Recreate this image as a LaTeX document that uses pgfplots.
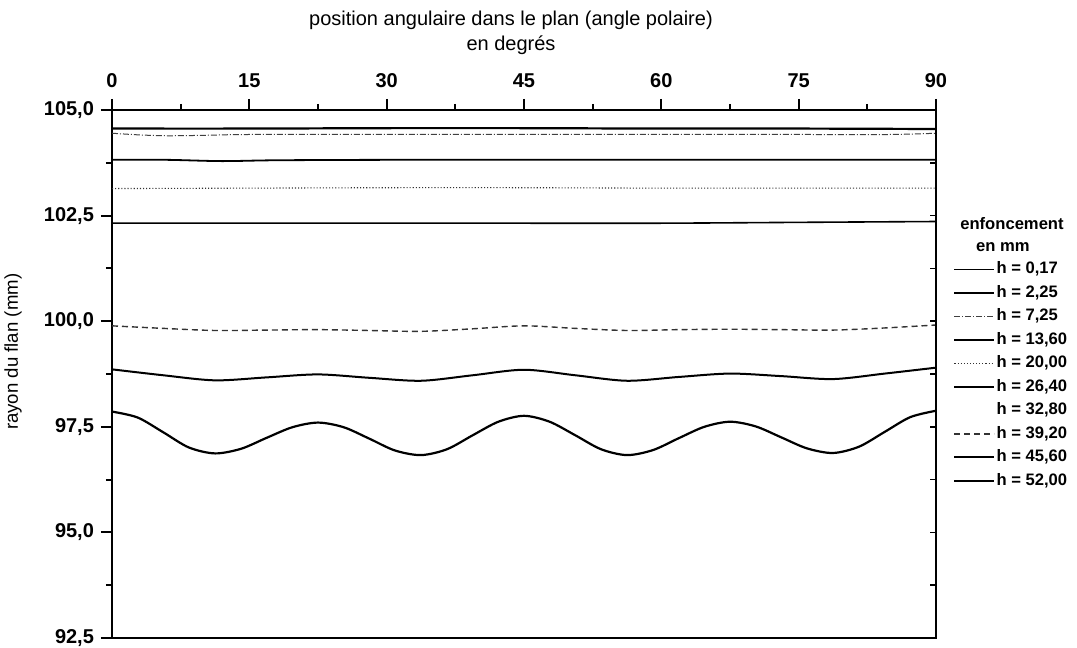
\documentclass[border=0pt]{standalone}
\usepackage{fontspec}
\setmainfont{Liberation Sans}
\usepackage{pgfplots}
\pgfplotsset{compat=1.18}
\begin{document}
\begin{tikzpicture}
\begin{axis}[
  width=412pt, height=264pt, scale only axis,
  xmin=0, xmax=90, ymin=92.5, ymax=105,
  xtick={0,15,...,90}, minor x tick num=1,
  ytick={92.5,95,...,105}, minor y tick num=1,
  xtick pos=upper, xticklabel pos=upper, ytick pos=left,
  tick align=outside,
  major tick length=5.5pt, minor tick length=3pt,
  tick style={black, line width=1pt},
  axis line style={line width=1.4pt},
  ticklabel style={font=\fontsize{10}{12}\selectfont\bfseries},
  xticklabel style={yshift=2pt},
  /pgf/number format/assume math mode=true,
  yticklabel style={/pgf/number format/.cd, fixed, fixed zerofill, precision=1, use comma},
  legend style={at={(1,0.715)}, anchor=north west, xshift=8.5pt, draw=none, fill=none, inner sep=0pt,
    font=\fontsize{8.3}{10}\selectfont\bfseries, row sep=3.25pt,
    nodes={inner sep=0.5pt, text height=6pt, text depth=1.5pt}},
  legend cell align=left,
  legend image code/.code={\draw[#1] (0pt,0pt) -- (20pt,0pt);},
]
% h = 0.17
\addplot[black, line width=0.6pt, no markers] table {
x y
0 104.98
45 104.98
90 104.98
};
\addlegendentry{h = 0,17}
% h = 2.25
\addplot[black, line width=1.1pt, no markers, smooth] table {
x y
0 104.56
15 104.56
30 104.57
45 104.57
60 104.56
75 104.56
90 104.55
};
\addlegendentry{h = 2,25}
% h = 7.25
\addplot[black!75, line width=0.5pt, densely dashdotted, no markers, smooth] table {
x y
0 104.45
3 104.41
6 104.39
10 104.40
15 104.42
30 104.42
45 104.42
60 104.42
75 104.42
85 104.42
90 104.45
};
\addlegendentry{h = 7,25}
% h = 13.60
\addplot[black, line width=0.9pt, no markers, smooth] table {
x y
0 103.82
6 103.82
12 103.79
18 103.81
30 103.82
45 103.82
60 103.82
75 103.82
90 103.82
};
\addlegendentry{h = 13,60}
% h = 20.00
\addplot[black!80, line width=0.55pt, densely dotted, no markers, smooth] table {
x y
0 103.14
15 103.15
30 103.16
45 103.16
60 103.15
75 103.15
90 103.15
};
\addlegendentry{h = 20,00}
% h = 26.40
\addplot[black, line width=0.8pt, no markers, smooth] table {
x y
0 102.32
15 102.32
30 102.32
45 102.32
60 102.32
75 102.34
90 102.36
};
\addlegendentry{h = 26,40}
% h = 32.80 (not drawn)
\addlegendimage{empty legend}
\addlegendentry{h = 32,80}
% h = 39.20
\addplot[black!80, line width=0.7pt, densely dashed, no markers, smooth] table {
x y
0 99.89
5.6 99.83
11.25 99.78
16.9 99.79
22.5 99.80
28.1 99.78
33.75 99.76
39.4 99.82
45 99.89
50.6 99.83
56.25 99.78
61.9 99.80
67.5 99.81
73.1 99.80
78.75 99.79
84.4 99.84
90 99.91
};
\addlegendentry{h = 39,20}
% h = 45.60
\addplot[black, line width=1pt, no markers, smooth] table {
x y
0 98.86
5.6 98.72
11.25 98.60
16.9 98.67
22.5 98.74
28.1 98.66
33.75 98.59
39.4 98.72
45 98.85
50.6 98.72
56.25 98.59
61.9 98.68
67.5 98.76
73.1 98.70
78.75 98.63
84.4 98.76
90 98.90
};
\addlegendentry{h = 45,60}
% h = 52.00
\addplot[black, line width=1.1pt, no markers, smooth] table {
x y
0 97.86
2.8 97.72
5.6 97.37
8.4 97.01
11.25 96.87
14.1 96.98
16.9 97.24
19.7 97.49
22.5 97.60
25.3 97.49
28.1 97.22
30.9 96.94
33.75 96.83
36.6 96.97
39.4 97.30
42.2 97.62
45 97.76
47.8 97.62
50.6 97.30
53.4 96.97
56.25 96.83
59.1 96.95
61.9 97.23
64.7 97.50
67.5 97.62
70.3 97.51
73.1 97.25
75.9 96.99
78.75 96.88
81.6 97.03
84.4 97.38
87.2 97.73
90 97.88
};
\addlegendentry{h = 52,00}
\coordinate (SW) at (rel axis cs:0,0);
\coordinate (NE) at (rel axis cs:1,1);
\coordinate (T) at (rel axis cs:0.5,1);
\coordinate (YL) at (rel axis cs:0,0.542);
\coordinate (L1) at (rel axis cs:1,0.784);
\coordinate (L2) at (rel axis cs:1,0.7405);
\end{axis}
\begin{axis}[
  width=412pt, height=264pt, scale only axis,
  xmin=0, xmax=90, ymin=92.5, ymax=105,
  hide x axis, axis y line*=right,
  ytick={92.5,93.75,...,105}, yticklabels={},
  tick align=inside, major tick length=3pt,
  tick style={black, line width=0.8pt},
  axis line style={line width=1.4pt, -},
]
\end{axis}
\node[font=\fontsize{10}{12}\selectfont, align=center, anchor=center] at ([xshift=-6.5pt, yshift=38.5pt]T) {position angulaire dans le plan (angle polaire)\\[0.5pt]en degrés};
\node[font=\fontsize{9.3}{12}\selectfont, rotate=90, anchor=center] at ([xshift=-49.5pt]YL) {rayon du flan (mm)};
\node[font=\fontsize{8.3}{10}\selectfont\bfseries, anchor=center] at ([xshift=38pt]L1) {enfoncement};
\node[font=\fontsize{8.3}{10}\selectfont\bfseries, anchor=center] at ([xshift=33.5pt]L2) {en mm};
\pgfresetboundingbox
\path[use as bounding box] ([xshift=-56pt,yshift=-4.5pt]SW) rectangle ([xshift=70.5pt,yshift=55pt]NE);
\end{tikzpicture}
\end{document}
